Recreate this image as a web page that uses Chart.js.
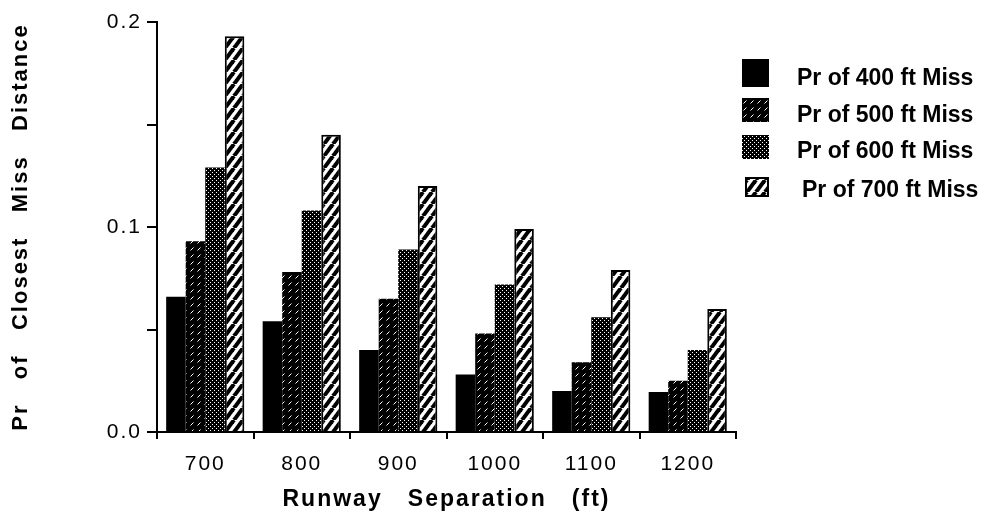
<!DOCTYPE html>
<html>
<head>
<meta charset="utf-8">
<script src="https://cdn.jsdelivr.net/npm/chart.js@4.4.0/dist/chart.umd.min.js"></script>
<style>
  html, body { margin: 0; padding: 0; background: #ffffff; }
  #wrap { width: 984px; height: 523px; }
</style>
</head>
<body>
<div id="wrap"><canvas id="c" width="984" height="523"></canvas></div>
<script>
// ---- data ----
const categories = ['700', '800', '900', '1000', '1100', '1200'];
const seriesNames = ['Pr of 400 ft Miss', 'Pr of 500 ft Miss', 'Pr of 600 ft Miss', 'Pr of 700 ft Miss'];
const miss400 = [0.066, 0.054, 0.040, 0.028, 0.020, 0.0195];
const miss500 = [0.093, 0.078, 0.065, 0.048, 0.034, 0.025];
const miss600 = [0.129, 0.108, 0.089, 0.072, 0.056, 0.040];
const miss700 = [0.193, 0.145, 0.120, 0.099, 0.079, 0.060];
const yTickLabels = ['0.0', '0.1', '0.2'];
const xTitle = 'Runway   Separation   (ft)';
const yTitle = 'Pr   of   Closest   Miss   Distance';

// ---- patterns ----
function makeTile(w, h, drawFn) {
  const c = document.createElement('canvas');
  c.width = w; c.height = h;
  const g = c.getContext('2d');
  drawFn(g, w, h);
  return document.getElementById('c').getContext('2d').createPattern(c, 'repeat');
}
const solidBlack = '#000000';
const dashPattern = makeTile(7, 7, (g, w, h) => {
  g.fillStyle = '#000'; g.fillRect(0, 0, w, h);
  g.strokeStyle = '#ffffff'; g.lineWidth = 1;
  g.beginPath(); g.moveTo(1.5, 5.5); g.lineTo(4.5, 2.5); g.stroke();
});
const dotPattern = makeTile(4, 4, (g, w, h) => {
  g.fillStyle = '#000'; g.fillRect(0, 0, w, h);
  g.fillStyle = '#ffffff';
  g.fillRect(0, 0, 1, 1); g.fillRect(2, 2, 1, 1);
});
const stripePattern = makeTile(9, 12, (g, w, h) => {
  g.fillStyle = '#fff'; g.fillRect(0, 0, w, h);
  g.strokeStyle = '#000'; g.lineWidth = 4;
  for (let k = -1; k <= 1; k++) {
    g.beginPath(); g.moveTo(k * w, h); g.lineTo(k * w + w, 0); g.stroke();
  }
});

const fills = [solidBlack, dashPattern, dotPattern, stripePattern];
const seriesValues = [miss400, miss500, miss600, miss700];

const datasets = seriesValues.map((vals, i) => ({
  label: seriesNames[i],
  data: vals,
  backgroundColor: fills[i],
  borderColor: '#000',
  borderWidth: i === 3 ? 2 : 0,
  categoryPercentage: 0.81,
  barPercentage: 1.0
}));

// ---- plugins ----
const spacingPlugin = {
  id: 'spacing',
  beforeDraw(chart) { chart.ctx.letterSpacing = '2px'; },
  beforeDatasetsDraw(chart) { chart.ctx.letterSpacing = '0px'; }
};

const legendPlugin = {
  id: 'sideLegend',
  afterDraw(chart) {
    const ctx = chart.ctx;
    ctx.save();
    ctx.letterSpacing = '0px';
    const rows = [
      { bx: 742, by: 59, bw: 27, bh: 28, tx: 797, ty: 85 },
      { bx: 742, by: 98, bw: 27, bh: 24, tx: 797, ty: 122 },
      { bx: 742, by: 135, bw: 27, bh: 24, tx: 797, ty: 158 },
      { bx: 745, by: 177, bw: 24, bh: 20, tx: 802, ty: 197 }
    ];
    chart.data.datasets.forEach((ds, i) => {
      const r = rows[i];
      ctx.fillStyle = ds.backgroundColor;
      ctx.fillRect(r.bx, r.by, r.bw, r.bh);
      if (ds.borderWidth) {
        ctx.strokeStyle = '#000'; ctx.lineWidth = 2;
        ctx.strokeRect(r.bx + 1, r.by + 1, r.bw - 2, r.bh - 2);
      }
      ctx.fillStyle = '#000';
      ctx.font = 'bold 23px "Liberation Sans", Arial, sans-serif';
      ctx.textBaseline = 'alphabetic';
      ctx.textAlign = 'left';
      ctx.fillText(ds.label, r.tx, r.ty);
    });
    ctx.restore();
  }
};

new Chart(document.getElementById('c'), {
  type: 'bar',
  data: { labels: categories, datasets },
  options: {
    responsive: false,
    animation: false,
    layout: { padding: { left: 0, right: 248, top: 22, bottom: 0 } },
    plugins: { legend: { display: false }, tooltip: { enabled: false } },
    scales: {
      x: {
        offset: true,
        grid: { display: true, drawOnChartArea: false, offset: true, color: '#000', lineWidth: 2, tickLength: 7 },
        border: { display: true, color: '#000', width: 2 },
        ticks: {
          color: '#000', padding: 13,
          font: { family: '"Liberation Sans", Arial, sans-serif', size: 21 }
        },
        title: {
          display: true, text: xTitle, color: '#000',
          font: { family: '"Liberation Sans", Arial, sans-serif', size: 23, weight: 'bold' },
          padding: { top: 0, bottom: 10 }
        },
        afterFit(scale) { scale.height = 91; }
      },
      y: {
        min: 0, max: 0.2,
        grid: { display: true, drawOnChartArea: false, color: '#000', lineWidth: 2, tickLength: 10 },
        border: { display: true, color: '#000', width: 2 },
        ticks: {
          stepSize: 0.05, color: '#000', padding: 5,
          font: { family: '"Liberation Sans", Arial, sans-serif', size: 21 },
          callback(v) {
            const k = Math.round(v * 100);
            return k % 10 === 0 ? yTickLabels[k / 10] : '';
          }
        },
        title: {
          display: true, text: yTitle, color: '#000',
          font: { family: '"Liberation Sans", Arial, sans-serif', size: 22, weight: 'bold' },
          padding: { top: 8, bottom: 0 }
        },
        afterFit(scale) { scale.width = 157; }
      }
    }
  },
  plugins: [spacingPlugin, legendPlugin]
});
</script>
</body>
</html>
